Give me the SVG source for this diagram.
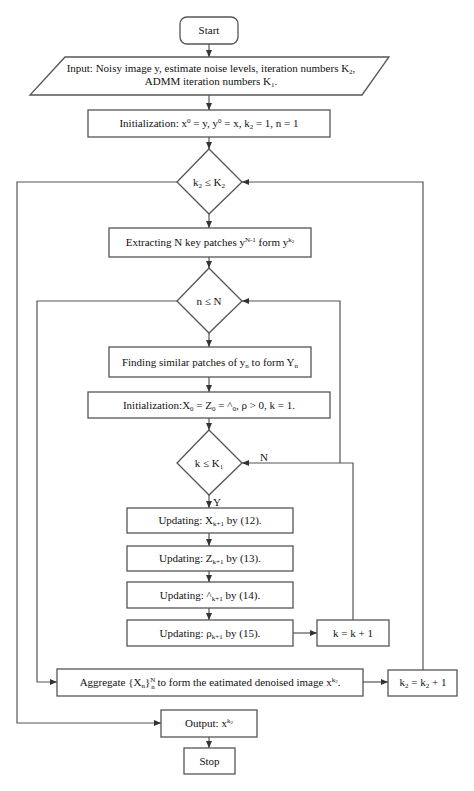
<svg xmlns="http://www.w3.org/2000/svg" width="474" height="791" viewBox="0 0 474 791">
<style>
.b{fill:#fff;stroke:#555;stroke-width:1.3}
.c{fill:none;stroke:#555;stroke-width:1.2}
text{font-family:"Liberation Serif","Times New Roman",serif;font-size:11px;fill:#111;text-anchor:middle}
.s{font-size:7px}
</style>
<defs>
<marker id="a" markerWidth="7" markerHeight="6" refX="7" refY="3" orient="auto" markerUnits="userSpaceOnUse">
<path d="M0,0 L7,3 L0,6 z" fill="#333"/>
</marker>
</defs>
<rect width="474" height="791" fill="#fff"/>
<g id="connectors" class="c">
<path d="M209,44V57" marker-end="url(#a)"/>
<path d="M209,95V110" marker-end="url(#a)"/>
<path d="M209,137V149" marker-end="url(#a)"/>
<path d="M209,214V228" marker-end="url(#a)"/>
<path d="M209,257V268" marker-end="url(#a)"/>
<path d="M209,333V347" marker-end="url(#a)"/>
<path d="M209,377V392" marker-end="url(#a)"/>
<path d="M209,418V430" marker-end="url(#a)"/>
<path d="M209,495V508" marker-end="url(#a)"/>
<path d="M209,533V546" marker-end="url(#a)"/>
<path d="M209,571V582" marker-end="url(#a)"/>
<path d="M209,608V620" marker-end="url(#a)"/>
<path d="M293,633H317" marker-end="url(#a)"/>
<path d="M353,620V463H242" marker-end="url(#a)"/>
<path d="M340,463V301H242" marker-end="url(#a)"/>
<path d="M177,301H37V682H57" marker-end="url(#a)"/>
<path d="M363,682H388" marker-end="url(#a)"/>
<path d="M423,670V182H242" marker-end="url(#a)"/>
<path d="M177,182H17V723H161" marker-end="url(#a)"/>
<path d="M209,737V748" marker-end="url(#a)"/>
</g>
<text x="264" y="461">N</text>
<text x="217" y="506">Y</text>
<g id="start"><rect class="b" x="180" y="17" width="58" height="27" rx="7"/><text x="209" y="34">Start</text></g>
<g id="input"><path class="b" d="M65,57H389L362,95H30z"/>
<text x="211" y="72">Input: Noisy image y, estimate noise levels, iteration numbers K<tspan class="s" dy="2">2</tspan><tspan dy="-2">,</tspan></text>
<text x="211" y="85">ADMM iteration numbers K<tspan class="s" dy="2">1</tspan><tspan dy="-2">.</tspan></text></g>
<g id="init"><rect class="b" x="88" y="110" width="242" height="27"/>
<text x="209" y="127">Initialization: x<tspan class="s" dy="-4">0</tspan><tspan dy="4"> = y, y</tspan><tspan class="s" dy="-4">0</tspan><tspan dy="4"> = x, k</tspan><tspan class="s" dy="2">2</tspan><tspan dy="-2"> = 1, n = 1</tspan></text></g>
<g id="d1"><path class="b" d="M209,149L242,182L209,214L177,182z"/>
<text x="209" y="186">k<tspan class="s" dy="2">2</tspan><tspan dy="-2"> ≤ K</tspan><tspan class="s" dy="2">2</tspan></text></g>
<g id="extract"><rect class="b" x="109" y="228" width="202" height="29"/>
<text x="210" y="246">Extracting N key patches y<tspan class="s" dy="-4">N-1</tspan><tspan dy="4"> form y</tspan><tspan class="s" dy="-4">k</tspan><tspan class="s" style="font-size:5px" dy="1">2</tspan></text></g>
<g id="d2"><path class="b" d="M209,268L242,301L209,333L177,301z"/>
<text x="209" y="305">n ≤ N</text></g>
<g id="finding"><rect class="b" x="109" y="347" width="202" height="30"/>
<text x="210" y="366">Finding similar patches of y<tspan class="s" dy="2">n</tspan><tspan dy="-2"> to form Y</tspan><tspan class="s" dy="2">n</tspan></text></g>
<g id="init2"><rect class="b" x="88" y="392" width="242" height="26"/>
<text x="209" y="409">Initialization:X<tspan class="s" dy="2">0</tspan><tspan dy="-2"> = Z</tspan><tspan class="s" dy="2">0</tspan><tspan dy="-2"> = ^</tspan><tspan class="s" dy="2">0</tspan><tspan dy="-2">, ρ &gt; 0, k = 1.</tspan></text></g>
<g id="d3"><path class="b" d="M209,430L242,463L209,495L177,463z"/>
<text x="209" y="467">k ≤ K<tspan class="s" dy="2">1</tspan></text></g>
<g id="updX"><rect class="b" x="127" y="508" width="166" height="25"/>
<text x="210" y="524">Updating: X<tspan class="s" dy="2">k+1</tspan><tspan dy="-2"> by (12).</tspan></text></g>
<g id="updZ"><rect class="b" x="127" y="546" width="166" height="25"/>
<text x="210" y="562">Updating: Z<tspan class="s" dy="2">k+1</tspan><tspan dy="-2"> by (13).</tspan></text></g>
<g id="updL"><rect class="b" x="127" y="582" width="166" height="26"/>
<text x="210" y="599">Updating: ^<tspan class="s" dy="2">k+1</tspan><tspan dy="-2"> by (14).</tspan></text></g>
<g id="updR"><rect class="b" x="127" y="620" width="166" height="26"/>
<text x="210" y="637">Updating: ρ<tspan class="s" dy="2">k+1</tspan><tspan dy="-2"> by (15).</tspan></text></g>
<g id="kinc"><rect class="b" x="317" y="620" width="72" height="26"/>
<text x="353" y="637">k = k + 1</text></g>
<g id="aggregate"><rect class="b" x="57" y="669" width="306" height="27"/>
<text x="210" y="686">Aggregate {X<tspan class="s" dy="2">n</tspan><tspan dy="-2">}</tspan><tspan class="s" dy="-4">N</tspan><tspan class="s" dx="-4" dy="7">n</tspan><tspan dy="-3"> to form the eatimated denoised image x</tspan><tspan class="s" dy="-4">k</tspan><tspan class="s" style="font-size:5px" dy="1">2</tspan><tspan dy="3">.</tspan></text></g>
<g id="k2inc"><rect class="b" x="388" y="670" width="69" height="26"/>
<text x="423" y="686">k<tspan class="s" dy="2">2</tspan><tspan dy="-2"> = k</tspan><tspan class="s" dy="2">2</tspan><tspan dy="-2"> + 1</tspan></text></g>
<g id="output"><rect class="b" x="161" y="710" width="96" height="27"/>
<text x="209" y="727">Output: x<tspan class="s" dy="-4">k</tspan><tspan class="s" style="font-size:5px" dy="1">2</tspan></text></g>
<g id="stop"><rect class="b" x="184" y="748" width="51" height="26"/>
<text x="209.5" y="765">Stop</text></g>
</svg>
